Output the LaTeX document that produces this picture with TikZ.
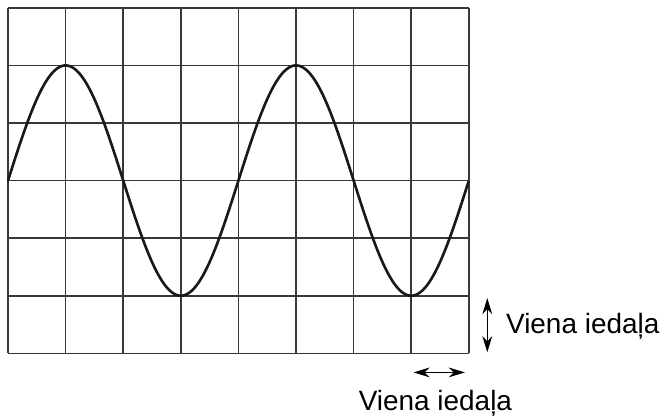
\documentclass[tikz,border=0pt]{standalone}
\usepackage{fontspec}
\setmainfont{Liberation Sans}
\usetikzlibrary{arrows.meta}

\tikzset{
  gridline/.style={line width=0.75pt, black!78},
  wave/.style={line width=1.3pt, black!90},
  divarrow/.style={thin, {Stealth[length=2.8mm,width=1.7mm]}-{Stealth[length=2.8mm,width=1.7mm]}},
  divlabel/.style={font=\fontsize{13.8}{16}\selectfont, inner sep=0pt}
}

\begin{document}
\begin{tikzpicture}

  \useasboundingbox (-0.139,-1.09) rectangle (11.44,6.135);

  % --- Screen grid ---
  \draw[gridline] (0,0) grid (8,6);

  % --- Signal ---
  \draw[wave, domain=0:8, samples=161, smooth] plot (\x, {3+2*sin(90*\x)});

  % --- Vertical division ---
  \coordinate (vtop) at (8.32,0.96);
  \coordinate (vbot) at (8.32,0.02);
  \draw[divarrow] (vtop) -- (vbot);
  \node[divlabel, anchor=west] (vlabel) at (8.64,0.47) {Viena iedaļa};

  % --- Horizontal division ---
  \coordinate (hleft) at (7.04,-0.33);
  \coordinate (hright) at (7.93,-0.33);
  \draw[divarrow] (hleft) -- (hright);
  \node[divlabel] (hlabel) at (7.42,-0.86) {Viena iedaļa};

\end{tikzpicture}
\end{document}
